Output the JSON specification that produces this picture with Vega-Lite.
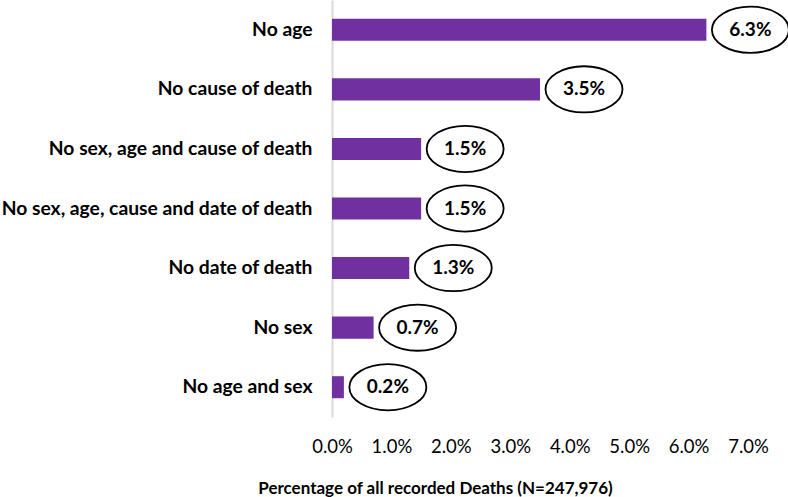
{
  "$schema": "https://vega.github.io/schema/vega-lite/v6.json",
  "width": 416,
  "height": 417,
  "autosize": "none",
  "padding": {"left": 332, "top": 0, "right": 40, "bottom": 80},
  "background": "white",
  "config": {"view": {"stroke": null}, "font": "Lato"},
  "data": {
    "values": [
      {"category": "No age", "value": 6.3, "label": "6.3%"},
      {"category": "No cause of death", "value": 3.5, "label": "3.5%"},
      {"category": "No sex, age and cause of death", "value": 1.5, "label": "1.5%"},
      {"category": "No sex, age, cause and date of death", "value": 1.5, "label": "1.5%"},
      {"category": "No date of death", "value": 1.3, "label": "1.3%"},
      {"category": "No sex", "value": 0.7, "label": "0.7%"},
      {"category": "No age and sex", "value": 0.2, "label": "0.2%"}
    ]
  },
  "encoding": {
    "y": {
      "field": "category",
      "type": "nominal",
      "sort": null,
      "scale": {"paddingInner": 0.63, "paddingOuter": 0.315},
      "axis": {
        "title": null,
        "ticks": false,
        "labelPadding": 20,
        "labelFont": "Lato",
        "labelFontWeight": "bold",
        "labelFontSize": 19.3,
        "labelColor": "#000000",
        "labelLimit": 400,
        "domainColor": "#d9d9d9",
        "domainWidth": 2
      }
    },
    "x": {
      "field": "value",
      "type": "quantitative",
      "scale": {"domain": [0, 7], "nice": false},
      "axis": {
        "values": [0, 1, 2, 3, 4, 5, 6, 7],
        "labelExpr": "format(datum.value, '.1f') + '%'",
        "grid": false,
        "ticks": false,
        "domain": false,
        "labelPadding": 20,
        "labelFont": "Lato",
        "labelFontSize": 18.5,
        "labelColor": "#000000",
        "labelFlush": false,
        "title": "Percentage of all recorded Deaths (N=247,976)",
        "titleFont": "Lato",
        "titleFontSize": 17,
        "titleFontWeight": "bold",
        "titleColor": "#000000",
        "titleAnchor": null,
        "titleAlign": "center",
        "titleBaseline": "middle",
        "titleX": 103,
        "titleY": 71
      }
    }
  },
  "layer": [
    {"mark": {"type": "bar", "color": "#7030a0"}},
    {
      "mark": {
        "type": "point",
        "shape": "M-1,0A1,0.6,0,1,1,1,0A1,0.6,0,1,1,-1,0Z",
        "size": 5929,
        "filled": true,
        "fill": "white",
        "stroke": "black",
        "strokeWidth": 1.8,
        "opacity": 1,
        "xOffset": 44
      }
    },
    {
      "mark": {
        "type": "text",
        "dx": 44,
        "font": "Lato",
        "fontWeight": "bold",
        "fontSize": 19,
        "color": "#000000",
        "align": "center",
        "baseline": "middle"
      },
      "encoding": {"text": {"field": "label"}}
    }
  ]
}
